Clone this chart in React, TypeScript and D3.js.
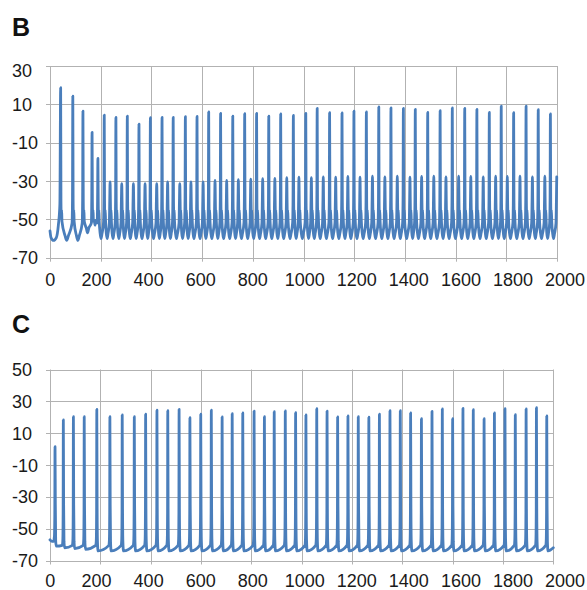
import React from 'react';
import * as d3 from 'd3';

// ---------- data ----------
const X_TICKS = [0, 200, 400, 600, 800, 1000, 1200, 1400, 1600, 1800, 2000];
const B_Y_TICKS = [-70, -50, -30, -10, 10, 30];
const C_Y_TICKS = [-70, -50, -30, -10, 10, 30, 50];

// Panel B: large spikes (time ms, peak mV)
const B_BIG_T = [42, 90, 130, 166, 189, 214, 260, 305, 351, 396, 442, 486, 534, 580, 626, 673, 721, 768, 815, 863, 910, 960, 1009, 1054, 1103, 1152, 1199, 1248, 1297, 1345, 1394, 1441, 1490, 1539, 1587, 1636, 1684, 1733, 1780, 1829, 1878, 1926, 1974];
const B_BIG_V = [18.7, 14.3, 6.5, -4.6, -18.2, 4.4, 3.2, 3.9, -0.3, 3.0, 3.2, 3.2, 3.6, 3.7, 6.0, 5.3, 3.9, 5.1, 5.3, 3.9, 5.0, 4.2, 5.3, 7.9, 5.6, 5.5, 6.5, 6.0, 8.6, 8.2, 7.9, 7.4, 5.8, 6.7, 8.1, 7.9, 7.4, 5.8, 9.0, 5.6, 9.0, 7.2, 5.0];
// Panel B: small spikes
const B_SMALL_T = [237, 283, 329, 375, 421, 464, 512, 556, 604, 651, 697, 743, 792, 839, 887, 934, 982, 1031, 1078, 1127, 1175, 1223, 1272, 1321, 1370, 1420, 1466, 1514, 1562, 1612, 1660, 1709, 1758, 1804, 1854, 1903, 1952, 1999];
const B_SMALL_V = [-30.4, -31.4, -31.4, -31.4, -31.4, -30.4, -31.4, -30.4, -30.4, -29.7, -29.7, -29.3, -29.0, -28.8, -28.6, -28.3, -28.0, -28.2, -27.8, -28.0, -27.6, -28.0, -27.5, -27.8, -27.4, -28.0, -27.6, -27.5, -27.8, -27.4, -27.6, -27.8, -27.5, -27.6, -27.4, -27.8, -27.5, -27.8];
const B_START: [number, number][] = [[0, -56], [4, -59.5], [14, -61], [25, -59.5], [33, -53], [39, -42]];
const B_EARLY_TROUGH = [-61, -61, -57, -53, -60];
const B_TROUGH = -60;
// shape of one spike after its peak (ms offset, mV) and before the next one
const B_POST: [number, number][] = [[1.2, -40], [2.5, -49], [3.8, -45], [5.2, -51]];
const B_PRE: [number, number][] = [[3, -52], [1.3, -40]];
const B_U: [number, number][] = [[0.36, 2.5], [0.5, 0], [0.64, 2.5]]; // fraction of interval, mV above trough

// Panel C: spikes (time ms, peak mV)
const C_T = [20, 53, 93, 136, 186, 238, 287, 335, 380, 425, 468, 513, 556, 599, 641, 684, 724, 766, 811, 852, 891, 935, 976, 1017, 1060, 1101, 1143, 1184, 1225, 1267, 1309, 1351, 1392, 1433, 1476, 1518, 1559, 1600, 1641, 1682, 1725, 1766, 1808, 1849, 1892, 1933, 1974];
const C_V = [1.5, 18.3, 20.3, 20.3, 25.0, 20.3, 21.4, 20.3, 21.9, 24.4, 24.1, 25.0, 19.7, 21.9, 24.4, 20.2, 22.2, 22.7, 23.9, 20.3, 23.5, 24.0, 22.9, 21.4, 25.4, 23.9, 20.2, 20.8, 20.3, 20.0, 21.9, 24.1, 24.1, 22.7, 19.1, 23.7, 25.2, 19.1, 25.6, 24.7, 19.1, 22.7, 25.4, 21.6, 25.2, 26.0, 20.8];
const C_START: [number, number][] = [[0, -57], [8, -58], [14, -58], [17.5, -55], [19, -42]];
const C_EARLY_TROUGH = [-61, -62, -62.5, -63];
const C_TROUGH = -64;
const C_POST: [number, number][] = [[1.2, -35], [2.6, -58], [5, 0]];
const C_PRE: [number, number][] = [[4, -60.5], [2, -57], [0.8, -40]];
const C_END: [number, number] = [2000, -62];

// ---------- trace building ----------
function buildB(): [number, number][] {
  const ev = B_BIG_T.map((t, i) => ({ t, v: B_BIG_V[i] }))
    .concat(B_SMALL_T.map((t, i) => ({ t, v: B_SMALL_V[i] })))
    .sort((a, b) => a.t - b.t);
  const pts: [number, number][] = [...B_START];
  ev.forEach((e, i) => {
    pts.push([e.t, e.v]);
    const n = ev[i + 1];
    if (!n) return;
    const d = n.t - e.t;
    const tr = i < B_EARLY_TROUGH.length ? B_EARLY_TROUGH[i] : B_TROUGH;
    B_POST.forEach(([o, v]) => pts.push([e.t + o, v]));
    B_U.forEach(([f, dv]) => pts.push([e.t + d * f, tr + dv]));
    B_PRE.forEach(([o, v]) => pts.push([n.t - o, v]));
  });
  return pts;
}

function buildC(): [number, number][] {
  const pts: [number, number][] = [...C_START];
  C_T.forEach((t, i) => {
    pts.push([t, C_V[i]]);
    const tr = i < C_EARLY_TROUGH.length ? C_EARLY_TROUGH[i] : C_TROUGH;
    C_POST.forEach(([o, v]) => pts.push([t + o, v === 0 ? tr : v]));
    const nt = C_T[i + 1];
    if (nt === undefined) return;
    C_PRE.forEach(([o, v]) => pts.push([nt - o, v]));
  });
  pts.push(C_END);
  return pts;
}

const FONT = '"Liberation Sans", Arial, sans-serif';
const LINE = '#4a7ebb';
const GRID = '#b2b2b2';

type PanelProps = {
  letter: string; letterY: number;
  left: number; right: number; top: number; bottom: number;
  yTicks: number[]; data: [number, number][]; labelBaseline: number; topLabelMin: number;
};

function Panel(p: PanelProps) {
  const x = d3.scaleLinear().domain([0, 2000]).range([p.left, p.right]);
  const y = d3.scaleLinear().domain([d3.min(p.yTicks)!, d3.max(p.yTicks)!]).range([p.bottom, p.top]);
  // tick-label positions as placed in the reference
  const xl = d3.scaleLinear().domain([0, 200, 2000]).range([50.3, 96.6, 565]);
  const line = d3.line<[number, number]>().x(d => x(d[0])).y(d => y(d[1])).curve(d3.curveMonotoneX);
  return (
    <g>
      <text x={12} y={p.letterY} fontFamily={FONT} fontWeight="bold" fontSize={25} fill="#111">{p.letter}</text>
      {p.yTicks.map(v => (
        <line key={'h' + v} x1={p.left - 4} x2={p.right} y1={Math.round(y(v)) + 0.5} y2={Math.round(y(v)) + 0.5} stroke={GRID} strokeWidth={1} />
      ))}
      {X_TICKS.map(v => (
        <line key={'v' + v} x1={Math.round(x(v)) + 0.5} x2={Math.round(x(v)) + 0.5} y1={p.top} y2={p.bottom + 4} stroke={GRID} strokeWidth={1} />
      ))}
      <path d={line(p.data) || ''} fill="none" stroke={LINE} strokeWidth={2.8} strokeLinejoin="round" strokeLinecap="round" />
      {p.yTicks.map(v => (
        <text key={'yl' + v} x={12} y={Math.max(y(v), p.topLabelMin) + 6.5} fontFamily={FONT} fontSize={18} fill="#1a1a1a">{v}</text>
      ))}
      {X_TICKS.map(v => (
        <text key={'xl' + v} x={xl(v)} y={p.labelBaseline} textAnchor="middle" fontFamily={FONT} fontSize={18} fill="#1a1a1a">{v}</text>
      ))}
    </g>
  );
}

export default function App() {
  const bData = buildB();
  const cData = buildC();
  return (
    <svg width={587} height={590} style={{ position: 'absolute', left: 0, top: 0, background: '#fff' }}>
      <rect x={0} y={0} width={587} height={590} fill="#fff" />
      <Panel letter="B" letterY={36} left={50} right={557} top={66} bottom={257.7} yTicks={B_Y_TICKS} data={bData} labelBaseline={285.5} topLabelMin={70} />
      <Panel letter="C" letterY={333} left={50} right={553.3} top={369.5} bottom={560.5} yTicks={C_Y_TICKS} data={cData} labelBaseline={586.5} topLabelMin={0} />
    </svg>
  );
}
